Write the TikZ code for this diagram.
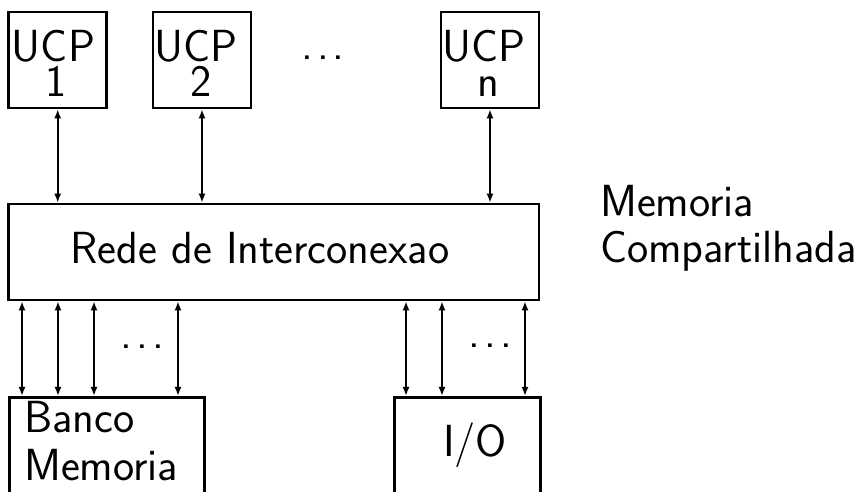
\documentclass[tikz,border=0pt]{standalone}
\usepackage{fontspec}
\usetikzlibrary{arrows.meta}
\newcommand\dotrow{.\kern4pt.\kern4pt.}
\begin{document}
\begin{tikzpicture}[x=1pt,y=1pt,
  box/.style={draw,line width=2.6pt,inner sep=0pt},
  lbl/.style={inner sep=0pt,font=\fontsize{45}{50}\selectfont\sffamily},
  link/.style={line width=1.8pt,{Latex[length=9pt,width=7pt]}-{Latex[length=9pt,width=7pt]}}]
\useasboundingbox (0,0) rectangle (861,492);
\clip (0,0) rectangle (861,492);
\node[box,minimum width=98,minimum height=96] (ucpa) at (57.7,432) {};
\node[lbl,anchor=base] (ucpatop) at (53.5,430) {UCP};
\node[lbl,anchor=base] (ucpabot) at (56.5,395) {1};
\node[box,minimum width=98,minimum height=96] (ucpb) at (202,432) {};
\node[lbl,anchor=base] (ucpbtop) at (196,430) {UCP};
\node[lbl,anchor=base] (ucpbbot) at (201,395) {2};
\node[box,minimum width=98,minimum height=96] (ucpn) at (490,432) {};
\node[lbl,anchor=base] (ucpntop) at (484,430) {UCP};
\node[lbl,anchor=base] (ucpnbot) at (488.5,395) {n};
\node[lbl,anchor=base] (topdots) at (323,432) {\dotrow};
\node[box,minimum width=530.7,minimum height=96] (rede) at (273.6,240) {};
\node[lbl,anchor=base] (redetext) at (260,228) {Rede de Interconexao};
\node[lbl,anchor=base west] (memtop) at (600,275) {Memoria};
\node[lbl,anchor=base west] (membot) at (600,229) {Compartilhada};
\node[box,anchor=north west,minimum width=194.7,minimum height=130] (banco) at (8.3,96) {};
\node[lbl,anchor=base west] (bancotext) at (24,59) {Banco};
\node[lbl,anchor=base west] (memotext) at (24,12) {Memoria};
\node[box,anchor=north west,minimum width=146,minimum height=130] (io) at (393,96) {};
\node[lbl,anchor=base] (iotext) at (475,35) {I/O};
\node[lbl,anchor=base] (leftdots) at (142.5,143.6) {\dotrow};
\node[lbl,anchor=base] (rightdots) at (490.5,144.6) {\dotrow};
\draw[link] (ucpa.south) -- (ucpa.south |- rede.north);
\draw[link] (ucpb.south) -- (ucpb.south |- rede.north);
\draw[link] (ucpn.south) -- (ucpn.south |- rede.north);
\foreach \px in {22,58,94,178}
  \draw[link] (\px,0 |- rede.south) -- (\px,0 |- banco.north);
\foreach \px in {406,442,525}
  \draw[link] (\px,0 |- rede.south) -- (\px,0 |- io.north);
\end{tikzpicture}
\end{document}
